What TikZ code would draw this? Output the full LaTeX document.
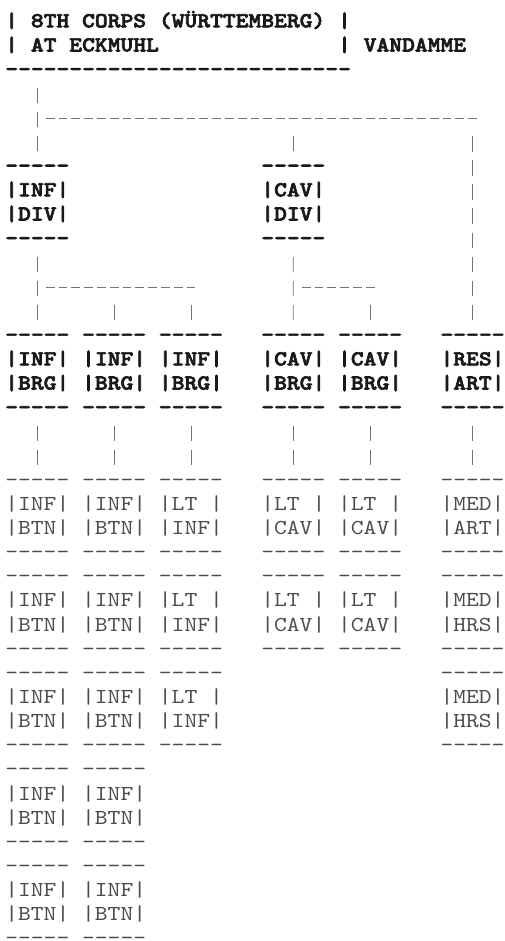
\documentclass[tikz,border=0pt]{standalone}
\usepackage{fontspec}
\setmonofont{lmmono10-regular.otf}[BoldFont=lmmonolt10-bold.otf,BoldFeatures={FakeBold=3},FakeStretch=1.1429]
\usetikzlibrary{positioning}
\newcommand{\cells}[1]{\hspace*{#1\fontcharwd\font`M}}
\ExplSyntaxOn
\NewDocumentCommand{\dashrow}{m}{\prg_replicate:nn{#1}{-{}}}
\ExplSyntaxOff
\newcommand{\unitbox}[2]{\rule{0pt}{16pt}\dashrow{5}\\|#1|\\|#2|\\\dashrow{5}}
\begin{document}
\begin{tikzpicture}[x=0.75pt,y=-0.75pt,
	unit/.style={anchor=north west,inner sep=0pt,outer sep=0pt,align=left,
		font=\ttfamily\fontsize{16pt}{18.11pt}\selectfont,text=black!70},
	hq/.style={unit,font=\ttfamily\bfseries\fontsize{16pt}{18.11pt}\selectfont,text=black!90},
	cell/.style 2 args={at={({5.3+12.8*#1},{27.3+24.15*(#2-1)-21.33})}},
	vbar/.style={draw=black!55,line width=0.6pt,dash pattern=on 11.6pt off 6.51pt},
	hdash/.style={draw=black!55,line width=0.7pt,dash pattern=on 6.6pt off 3pt}
	]
\useasboundingbox (0,0) rectangle (504,941);

\node[hq,cell={0}{1}](corps){\rule{0pt}{16pt}| 8TH CORPS (WÜRTTEMBERG) |\\| AT ECKMUHL\cells{14}| VANDAMME\\\dashrow{27}};

\node[hq,cell={0}{7}](idiv){\unitbox{INF}{DIV}};
\node[hq,right=144pt of idiv](cdiv){\unitbox{CAV}{DIV}};

\node[hq,cell={0}{14}](ib1){\unitbox{INF}{BRG}};
\node[hq,right=9.6pt of ib1](ib2){\unitbox{INF}{BRG}};
\node[hq,right=9.6pt of ib2](ib3){\unitbox{INF}{BRG}};
\node[hq,right=28.8pt of ib3](cb1){\unitbox{CAV}{BRG}};
\node[hq,right=9.6pt of cb1](cb2){\unitbox{CAV}{BRG}};
\node[hq,right=28.8pt of cb2](res){\unitbox{RES}{ART}};

\node[unit,below=38.34pt of ib1](a1){\unitbox{INF}{BTN}};
\node[unit,below=2.12pt of a1](a2){\unitbox{INF}{BTN}};
\node[unit,below=2.12pt of a2](a3){\unitbox{INF}{BTN}};
\node[unit,below=2.12pt of a3](a4){\unitbox{INF}{BTN}};
\node[unit,below=2.12pt of a4](a5){\unitbox{INF}{BTN}};

\node[unit,below=38.34pt of ib2](b1){\unitbox{INF}{BTN}};
\node[unit,below=2.12pt of b1](b2){\unitbox{INF}{BTN}};
\node[unit,below=2.12pt of b2](b3){\unitbox{INF}{BTN}};
\node[unit,below=2.12pt of b3](b4){\unitbox{INF}{BTN}};
\node[unit,below=2.12pt of b4](b5){\unitbox{INF}{BTN}};

\node[unit,below=38.34pt of ib3](l1){\unitbox{LT }{INF}};
\node[unit,below=2.12pt of l1](l2){\unitbox{LT }{INF}};
\node[unit,below=2.12pt of l2](l3){\unitbox{LT }{INF}};

\node[unit,below=38.34pt of cb1](v1){\unitbox{LT }{CAV}};
\node[unit,below=2.12pt of v1](v2){\unitbox{LT }{CAV}};

\node[unit,below=38.34pt of cb2](w1){\unitbox{LT }{CAV}};
\node[unit,below=2.12pt of w1](w2){\unitbox{LT }{CAV}};

\node[unit,below=38.34pt of res](m1){\unitbox{MED}{ART}};
\node[unit,below=2.12pt of m1](m2){\unitbox{MED}{HRS}};
\node[unit,below=2.12pt of m2](m3){\unitbox{MED}{HRS}};

% corps to divisions
\path (corps.south -| idiv.north) ++(0,42.5) coordinate (hqfork);
\draw[vbar](corps.south -| idiv.north) ++(0,12.15) -- (idiv.north);
\draw[hdash](hqfork) ++(8.4,0) -- (hqfork -| res.north) -- ++(4.4,0);
\draw[vbar](hqfork -| cdiv.north) ++(0,17.95) -- (cdiv.north);
\draw[vbar](hqfork -| res.north) ++(0,17.95) -- (res.north);

% divisions to brigades
\path (idiv.south) ++(0,42.5) coordinate (ifork);
\draw[vbar](idiv.south) ++(0,12.15) -- (ib1.north);
\draw[hdash](ifork) ++(8.4,0) -- (ifork -| ib3.north) -- ++(4.4,0);
\draw[vbar](ifork -| ib2.north) ++(0,17.95) -- (ib2.north);
\draw[vbar](ifork -| ib3.north) ++(0,17.95) -- (ib3.north);

\path (cdiv.south) ++(0,42.5) coordinate (cfork);
\draw[vbar](cdiv.south) ++(0,12.15) -- (cb1.north);
\draw[hdash](cfork) ++(8.4,0) -- (cfork -| cb2.north) -- ++(4.4,0);
\draw[vbar](cfork -| cb2.north) ++(0,17.95) -- (cb2.north);

% brigades to battalions
\foreach \u/\v in {ib1/a1,ib2/b1,ib3/l1,cb1/v1,cb2/w1,res/m1}
	\draw[vbar](\u.south) ++(0,12.15) -- (\v.north);
\end{tikzpicture}
\end{document}
